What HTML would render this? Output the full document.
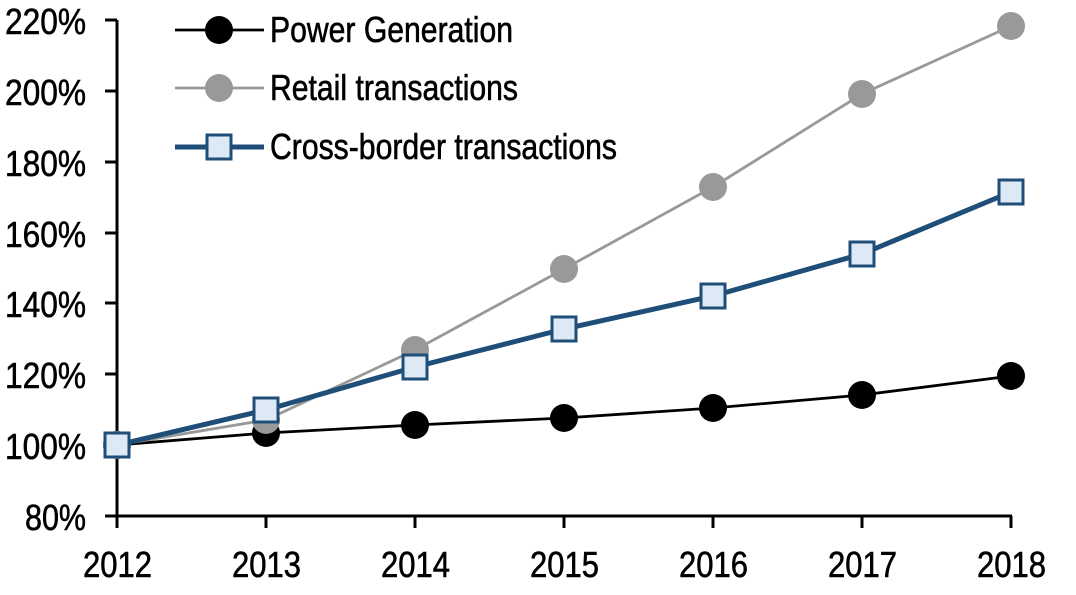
<!DOCTYPE html>
<html><head><meta charset="utf-8"><style>
html,body{margin:0;padding:0;background:#fff;}
svg text{font-family:"Liberation Sans",sans-serif;font-size:36px;fill:#000;stroke:#000;stroke-width:0.6;}
</style></head><body>
<svg width="1076" height="590" viewBox="0 0 1076 590" xmlns="http://www.w3.org/2000/svg">
<g stroke="#000" stroke-width="3">
<line x1="117" y1="20" x2="117" y2="528"/>
<line x1="105" y1="516" x2="1012" y2="516"/>
<line x1="105" y1="20" x2="117" y2="20"/>
<line x1="105" y1="91" x2="117" y2="91"/>
<line x1="105" y1="162" x2="117" y2="162"/>
<line x1="105" y1="233" x2="117" y2="233"/>
<line x1="105" y1="303" x2="117" y2="303"/>
<line x1="105" y1="374" x2="117" y2="374"/>
<line x1="105" y1="445" x2="117" y2="445"/>
<line x1="266" y1="516" x2="266" y2="528"/>
<line x1="415" y1="516" x2="415" y2="528"/>
<line x1="564" y1="516" x2="564" y2="528"/>
<line x1="713" y1="516" x2="713" y2="528"/>
<line x1="862" y1="516" x2="862" y2="528"/>
<line x1="1011" y1="516" x2="1011" y2="528"/>
</g>
<g>
<text x="5" y="34" textLength="81" lengthAdjust="spacingAndGlyphs">220%</text>
<text x="5" y="105" textLength="81" lengthAdjust="spacingAndGlyphs">200%</text>
<text x="5" y="176" textLength="81" lengthAdjust="spacingAndGlyphs">180%</text>
<text x="5" y="247" textLength="81" lengthAdjust="spacingAndGlyphs">160%</text>
<text x="5" y="317" textLength="81" lengthAdjust="spacingAndGlyphs">140%</text>
<text x="5" y="388" textLength="81" lengthAdjust="spacingAndGlyphs">120%</text>
<text x="5" y="459" textLength="81" lengthAdjust="spacingAndGlyphs">100%</text>
<text x="25" y="530" textLength="61" lengthAdjust="spacingAndGlyphs">80%</text>
</g>
<g>
<text x="83" y="577" textLength="69" lengthAdjust="spacingAndGlyphs">2012</text>
<text x="232" y="577" textLength="69" lengthAdjust="spacingAndGlyphs">2013</text>
<text x="381" y="577" textLength="69" lengthAdjust="spacingAndGlyphs">2014</text>
<text x="530" y="577" textLength="69" lengthAdjust="spacingAndGlyphs">2015</text>
<text x="679" y="577" textLength="69" lengthAdjust="spacingAndGlyphs">2016</text>
<text x="828" y="577" textLength="69" lengthAdjust="spacingAndGlyphs">2017</text>
<text x="977" y="577" textLength="69" lengthAdjust="spacingAndGlyphs">2018</text>
</g>
<polyline fill="none" stroke="#000" stroke-width="2.8" points="117,445 266,433 415,425 564,418 713,408 862,395 1011,376"/>
<g fill="#000">
<circle cx="117" cy="445" r="14"/><circle cx="266" cy="433" r="14"/><circle cx="415" cy="425" r="14"/><circle cx="564" cy="418" r="14"/><circle cx="713" cy="408" r="14"/><circle cx="862" cy="395" r="14"/><circle cx="1011" cy="376" r="14"/>
</g>
<polyline fill="none" stroke="#999" stroke-width="2.8" points="117,445 266,420 415,350 564,269 713,187 862,94 1011,26"/>
<g fill="#999">
<circle cx="117" cy="445" r="14"/><circle cx="266" cy="420" r="14"/><circle cx="415" cy="350" r="14"/><circle cx="564" cy="269" r="14"/><circle cx="713" cy="187" r="14"/><circle cx="862" cy="94" r="14"/><circle cx="1011" cy="26" r="14"/>
</g>
<polyline fill="none" stroke="#1f4e79" stroke-width="5" points="117,445 266,410 415,367 564,329 713,296 862,254 1011,192"/>
<g fill="#dde9f5" stroke="#1f4e79" stroke-width="3">
<rect x="105" y="433" width="24" height="24"/><rect x="254" y="398" width="24" height="24"/><rect x="403" y="355" width="24" height="24"/><rect x="552" y="317" width="24" height="24"/><rect x="701" y="284" width="24" height="24"/><rect x="850" y="242" width="24" height="24"/><rect x="999" y="180" width="24" height="24"/>
</g>
<line x1="175" y1="30" x2="264" y2="30" stroke="#000" stroke-width="2.8"/>
<circle cx="219" cy="30" r="14" fill="#000"/>
<text x="270" y="42" textLength="243" lengthAdjust="spacingAndGlyphs">Power Generation</text>
<line x1="175" y1="88" x2="264" y2="88" stroke="#999" stroke-width="2.8"/>
<circle cx="219" cy="88" r="14" fill="#999"/>
<text x="270" y="100" textLength="248" lengthAdjust="spacingAndGlyphs">Retail transactions</text>
<line x1="175" y1="147" x2="264" y2="147" stroke="#1f4e79" stroke-width="5"/>
<rect x="207" y="135" width="24" height="24" fill="#dde9f5" stroke="#1f4e79" stroke-width="3"/>
<text x="270" y="159" textLength="347" lengthAdjust="spacingAndGlyphs">Cross-border transactions</text>
</svg>
</body></html>
